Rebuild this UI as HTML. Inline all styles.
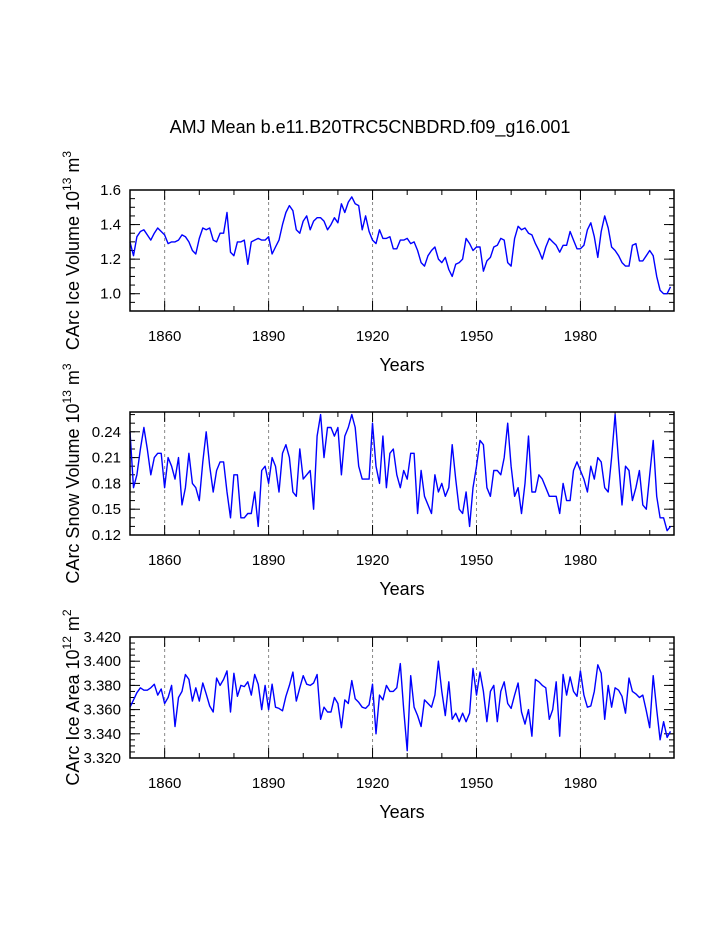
<!DOCTYPE html>
<html><head><meta charset="utf-8"><style>
html,body{margin:0;padding:0;background:#fff;}
svg{display:block;font-family:"Liberation Sans",Arial,sans-serif;}
</style></head><body>
<svg id="chart" width="723" height="935" viewBox="0 0 723 935">
<text x="370" y="133" font-size="18" text-anchor="middle">AMJ Mean b.e11.B20TRC5CNBDRD.f09_g16.001</text>
</svg>
<script>
const startYear = 1850;
const volumeValues = [1.30,1.22,1.33,1.36,1.37,1.34,1.31,1.35,1.38,1.36,
1.34,1.29,1.30,1.30,1.31,1.34,1.33,1.30,1.25,1.23,
1.32,1.38,1.37,1.38,1.31,1.30,1.35,1.35,1.47,1.24,
1.22,1.30,1.30,1.31,1.17,1.30,1.31,1.32,1.31,1.31,
1.33,1.23,1.27,1.31,1.40,1.47,1.51,1.48,1.37,1.35,
1.42,1.45,1.37,1.42,1.44,1.44,1.42,1.37,1.40,1.44,
1.41,1.52,1.47,1.53,1.56,1.52,1.51,1.37,1.45,1.36,
1.31,1.29,1.37,1.32,1.32,1.33,1.26,1.26,1.31,1.31,
1.32,1.29,1.30,1.25,1.18,1.16,1.22,1.25,1.27,1.20,
1.18,1.21,1.14,1.10,1.17,1.18,1.20,1.32,1.29,1.25,
1.27,1.27,1.13,1.19,1.21,1.27,1.28,1.32,1.31,1.18,
1.16,1.32,1.39,1.37,1.38,1.35,1.34,1.29,1.25,1.20,
1.27,1.32,1.30,1.28,1.24,1.28,1.28,1.36,1.31,1.26,
1.26,1.28,1.37,1.41,1.33,1.21,1.36,1.45,1.38,1.27,
1.25,1.22,1.18,1.16,1.16,1.28,1.29,1.19,1.19,1.22,
1.25,1.22,1.10,1.02,1.00,1.00,1.04];
const snowValues = [.24,.175,.19,.22,.245,.22,.19,.21,.215,.215,
.175,.21,.20,.185,.21,.155,.175,.215,.18,.175,
.16,.205,.24,.20,.17,.195,.205,.205,.17,.14,
.19,.19,.14,.14,.145,.145,.17,.13,.195,.20,
.18,.21,.20,.17,.215,.225,.21,.17,.165,.22,
.185,.19,.195,.15,.235,.26,.21,.245,.245,.235,
.245,.19,.235,.245,.26,.245,.20,.185,.185,.185,
.25,.20,.18,.235,.175,.215,.22,.19,.175,.195,
.185,.215,.215,.145,.195,.165,.155,.145,.19,.17,
.18,.165,.175,.225,.185,.15,.145,.17,.13,.175,
.20,.23,.225,.175,.165,.195,.195,.19,.21,.25,
.20,.165,.175,.145,.18,.235,.17,.17,.19,.185,
.175,.165,.165,.165,.145,.18,.16,.16,.195,.205,
.195,.185,.17,.20,.185,.21,.205,.175,.17,.21,
.26,.205,.155,.20,.195,.16,.175,.195,.155,.15,
.19,.23,.165,.14,.14,.125,.13];
const areaValues = [3.362,3.368,3.374,3.378,3.376,3.376,3.378,3.381,3.372,3.377,
3.365,3.370,3.380,3.346,3.370,3.375,3.389,3.385,3.367,3.378,
3.367,3.382,3.373,3.363,3.358,3.386,3.380,3.385,3.392,3.358,
3.390,3.371,3.380,3.379,3.383,3.372,3.389,3.381,3.360,3.380,
3.360,3.381,3.362,3.361,3.359,3.371,3.380,3.391,3.367,3.378,
3.388,3.381,3.380,3.382,3.389,3.352,3.362,3.358,3.358,3.370,
3.365,3.345,3.368,3.365,3.384,3.369,3.366,3.362,3.361,3.364,
3.381,3.340,3.372,3.368,3.380,3.375,3.375,3.378,3.398,3.360,
3.326,3.388,3.362,3.355,3.346,3.368,3.365,3.362,3.372,3.400,
3.375,3.355,3.383,3.352,3.357,3.350,3.357,3.350,3.357,3.394,
3.372,3.391,3.375,3.350,3.375,3.380,3.350,3.375,3.383,3.365,
3.361,3.372,3.382,3.358,3.348,3.360,3.338,3.385,3.383,3.380,
3.378,3.352,3.360,3.383,3.338,3.389,3.372,3.387,3.375,3.371,
3.392,3.372,3.362,3.363,3.375,3.397,3.390,3.352,3.380,3.362,
3.378,3.376,3.371,3.357,3.386,3.375,3.373,3.370,3.372,3.359,
3.345,3.388,3.360,3.335,3.350,3.337,3.342];
const xTickLabels = ["1860","1890","1920","1950","1980"];
const volTicks = ["1.0","1.2","1.4","1.6"];
const snowTicks = ["0.12","0.15","0.18","0.21","0.24"];
const areaTicks = ["3.320","3.340","3.360","3.380","3.400","3.420"];

const NS="http://www.w3.org/2000/svg";
const svg=document.getElementById('chart');
const X0=130,X1=674,YMIN=1850,YMAX=2007;
function xs(y){return X0+(y-YMIN)/(YMAX-YMIN)*(X1-X0);}
function mk(tag,attrs,parent){const e=document.createElementNS(NS,tag);for(const k in attrs)e.setAttribute(k,attrs[k]);(parent||svg).appendChild(e);return e;}

function panel(name,top,bot,vmin,vmax,vals,ticks,minorStep,titleMain,titleExp,unitExp){
  const g=mk('g',{});
  
  
  const ys=v=>bot-(v-vmin)/(vmax-vmin)*(bot-top);
  xTickLabels.forEach(t=>{
    const l=mk('line',{x1:xs(+t),x2:xs(+t),y1:top,y2:bot,stroke:'#888','stroke-width':1,'stroke-dasharray':'3,3'},g);
    
    
  });
  for(let y=1850;y<=2000;y+=10){
    const major=(y-1860)%30===0;const len=major?10:5;const x=xs(y);
    mk('line',{x1:x,x2:x,y1:bot,y2:bot-len,stroke:'#000','stroke-width':1},g);
    mk('line',{x1:x,x2:x,y1:top,y2:top+len,stroke:'#000','stroke-width':1},g);
  }
  xTickLabels.forEach(t=>{
    const tx=mk('text',{x:xs(+t),y:bot+30,'font-size':15,'text-anchor':'middle'},g);
    tx.textContent=t;
    
    
  });
  for(let v=vmin;v<=vmax+1e-9;v+=minorStep){
    const y=ys(v);if(y<top-0.5)break;
    mk('line',{x1:X0,x2:X0+5,y1:y,y2:y,stroke:'#000'},g);
    mk('line',{x1:X1,x2:X1-5,y1:y,y2:y,stroke:'#000'},g);
  }
  ticks.forEach(t=>{
    const y=ys(+t);
    mk('line',{x1:X0,x2:X0+10,y1:y,y2:y,stroke:'#000'},g);
    mk('line',{x1:X1,x2:X1-10,y1:y,y2:y,stroke:'#000'},g);
    const tx=mk('text',{x:X0-9,y:y+5,'font-size':15,'text-anchor':'end'},g);
    tx.textContent=t;
    
    
  });
  const pts=vals.map((v,i)=>xs(startYear+i).toFixed(1)+','+ys(v).toFixed(1)).join(' ');
  const pl=mk('polyline',{points:pts,fill:'none',stroke:'#0000ff','stroke-width':1.4,'stroke-linejoin':'round'},g);
  
  
  const fr=mk('rect',{x:X0,y:top,width:X1-X0,height:bot-top,fill:'none',stroke:'#000','stroke-width':1.5},g);
  
  
  const xt=mk('text',{x:(X0+X1)/2,y:bot+60,'font-size':18,'text-anchor':'middle'},g);
  xt.textContent='Years';
  
  
  const cy=(top+bot)/2;
  const yt=mk('text',{x:0,y:0,'font-size':18,'text-anchor':'middle',transform:`translate(79,${cy}) rotate(-90)`},g);
  
  
  const s1=mk('tspan',{},yt);s1.textContent=titleMain+' 10';
  const s2=mk('tspan',{dy:-8,'font-size':12},yt);s2.textContent=titleExp;
  const s3=mk('tspan',{dy:8},yt);s3.textContent=' m';
  const s4=mk('tspan',{dy:-8,'font-size':12},yt);s4.textContent=unitExp;
}
panel('ice-volume',190,311,0.9,1.6,volumeValues,volTicks,0.05,'CArc Ice Volume','13','3');
panel('snow-volume',412,535,0.12,0.263,snowValues,snowTicks,0.01,'CArc Snow Volume','13','3');
panel('ice-area',637,758,3.32,3.42,areaValues,areaTicks,0.005,'CArc Ice Area','12','2');
</script>
</body></html>
